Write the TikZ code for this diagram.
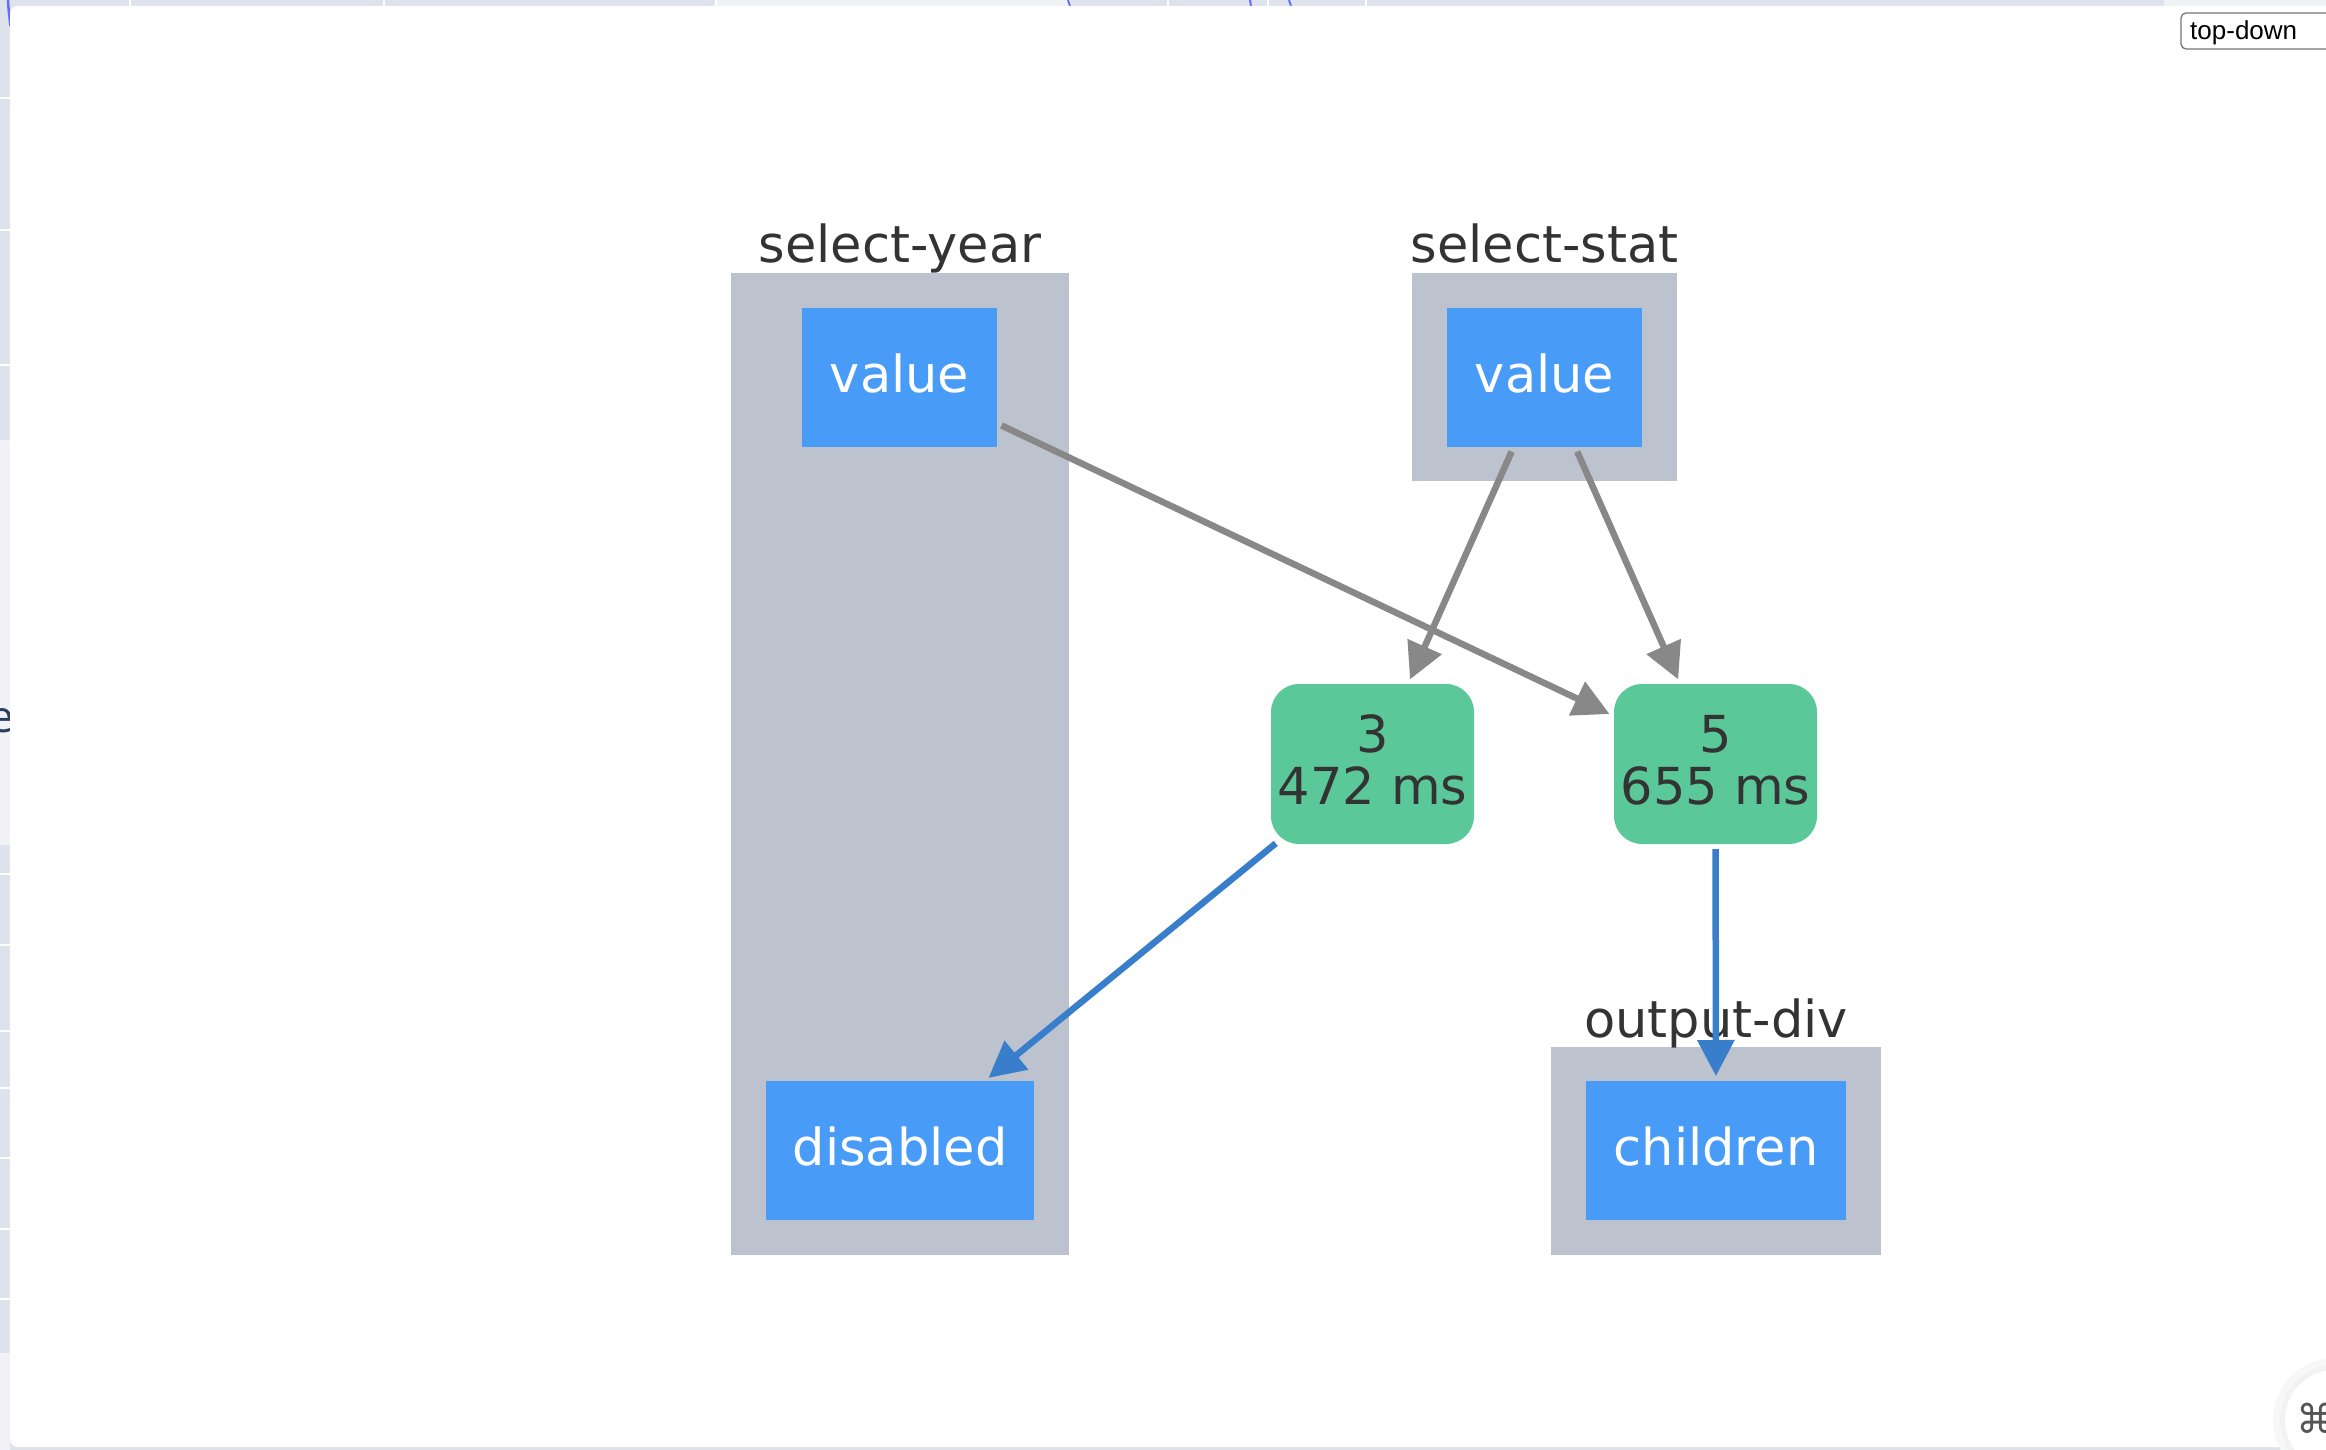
\documentclass[tikz,border=0pt]{standalone}
\usepackage{fontspec}
\usetikzlibrary{arrows.meta}
\newfontfamily\gvfont{DejaVu Sans}
\newfontfamily\uifont{Liberation Sans}
\newfontfamily\plotfont{Open Sans}
\definecolor{clusterc}{RGB}{188,194,206}
\definecolor{propblue}{RGB}{72,155,247}
\definecolor{cbgreen}{RGB}{91,200,154}
\definecolor{edgegray}{RGB}{136,136,136}
\definecolor{edgeblue}{RGB}{56,126,202}
\definecolor{textdark}{RGB}{51,51,51}
\definecolor{stripc}{RGB}{221,226,236}
\definecolor{striplight}{RGB}{240,242,246}
\definecolor{plotblue}{RGB}{99,110,250}
\definecolor{plotnavy}{RGB}{42,63,95}
\definecolor{btnborder}{RGB}{118,118,118}
\definecolor{iconc}{RGB}{85,85,85}
\begin{document}
\begin{tikzpicture}[x=1pt,y=-1pt,
  cluster/.style={rectangle, fill=clusterc, inner sep=0pt, outer sep=0pt},
  clabel/.style={anchor=base, inner sep=0pt, text=textdark, font=\gvfont\fontsize{51}{60}\selectfont},
  prop/.style={rectangle, fill=propblue, text=white, inner sep=0pt, outer sep=0pt,
    font=\gvfont\fontsize{51}{60}\selectfont, text height=37pt, text depth=7pt},
  cb/.style={rectangle, rounded corners=28pt, fill=cbgreen, text=textdark, inner sep=0pt, outer sep=0pt,
    align=center, font=\gvfont\fontsize{51}{52}\selectfont, text depth=9pt, minimum width=203pt, minimum height=160pt},
  gedge/.style={draw=edgegray, line width=6.5pt, -{Triangle[length=36pt,width=36pt]}, shorten <=5pt, shorten >=5pt},
  bedge/.style={draw=edgeblue, line width=6.5pt, -{Triangle[length=36pt,width=36pt]}, shorten <=5pt, shorten >=5pt}
]
\useasboundingbox (0,0) rectangle (2326,1450);
\begin{scope}
\clip (0,0) rectangle (2326,1450);
% page background around the panel
\fill[stripc] (0,0) rectangle (2326,1450);
\fill[striplight] (716,0) rectangle (1071,6);
\fill[striplight] (2164,0) rectangle (2326,6);
\foreach \xx in {130,384,716,1168,1268,1366}{\draw[white, line width=1.5pt] (\xx,0) -- (\xx,6);}
\fill[striplight] (0,440) rectangle (10,845);
\fill[striplight] (0,1353) rectangle (10,1450);
\foreach \yy in {98,230,365,874,945,1031,1088,1158,1229,1299}{\draw[white, line width=1.5pt] (0,\yy) -- (10,\yy);}
\draw[plotblue, line width=2.5pt] (8,0) .. controls (8.5,10) and (9.5,18) .. (10.5,26);
\draw[plotblue, line width=2pt] (1068,0) -- (1070,6);
\draw[plotblue, line width=2pt] (1250,0) -- (1251,6);
\draw[plotblue, line width=2pt] (1289,0) -- (1291,6);
\node[anchor=base east, inner sep=0pt, text=plotnavy, font=\plotfont\fontsize{44}{50}\selectfont] (eglyph) at (14,732) {e};
% white panel
\fill[white, rounded corners=8pt] (10,6) rectangle (2400,1447);
% toggle button
\draw[btnborder, line width=1.3pt, fill=white, rounded corners=5pt] (2181,13) rectangle (2360,49);
\node[anchor=base west, inner sep=0pt, text=black, font=\uifont\fontsize{26}{30}\selectfont] (btn) at (2190,39.5) {top-down};
% corner icon
\fill[black!3] (2335,1420) circle (62);
\fill[black!5] (2335,1420) circle (55);
\fill[white] (2335,1420) circle (50);
\node[inner sep=0pt, text=iconc, font=\gvfont\fontsize{40}{44}\selectfont] (cmd) at (2316,1418) {⌘};
\end{scope}

% clusters
\node[cluster, minimum width=338pt, minimum height=982pt] (yearC) at (900,764) {};
\node[cluster, minimum width=265pt, minimum height=208pt] (statC) at (1544.5,377) {};
\node[cluster, minimum width=330pt, minimum height=208pt] (outC) at (1716,1151) {};
\node[clabel] (yearL) at (900,262) {select-year};
\node[clabel] (statL) at (1544.5,262) {select-stat};
\node[clabel] (outL) at (1716,1037) {output-div};

% property nodes
\node[prop, minimum width=195pt, minimum height=139pt] (yv) at (899.5,377.5) {value};
\node[prop, minimum width=195pt, minimum height=139pt] (sv) at (1544.5,377.5) {value};
\node[prop, minimum width=268pt, minimum height=139pt] (dis) at (900,1150.5) {disabled};
\node[prop, minimum width=260pt, minimum height=139pt] (ch) at (1716,1150.5) {children};

% callback nodes
\node[cb] (n3) at (1372.5,764) {3\\472 ms};
\node[cb] (n5) at (1715.5,764) {5\\655 ms};

% edges
\draw[gedge] (yv) -- (n5);
\draw[gedge] (sv) -- (n3);
\draw[gedge] (sv) -- (n5);
\draw[bedge, shorten <=-1pt] (n3) -- (dis);
\draw[bedge] (n5) -- (ch);
\end{tikzpicture}
\end{document}
